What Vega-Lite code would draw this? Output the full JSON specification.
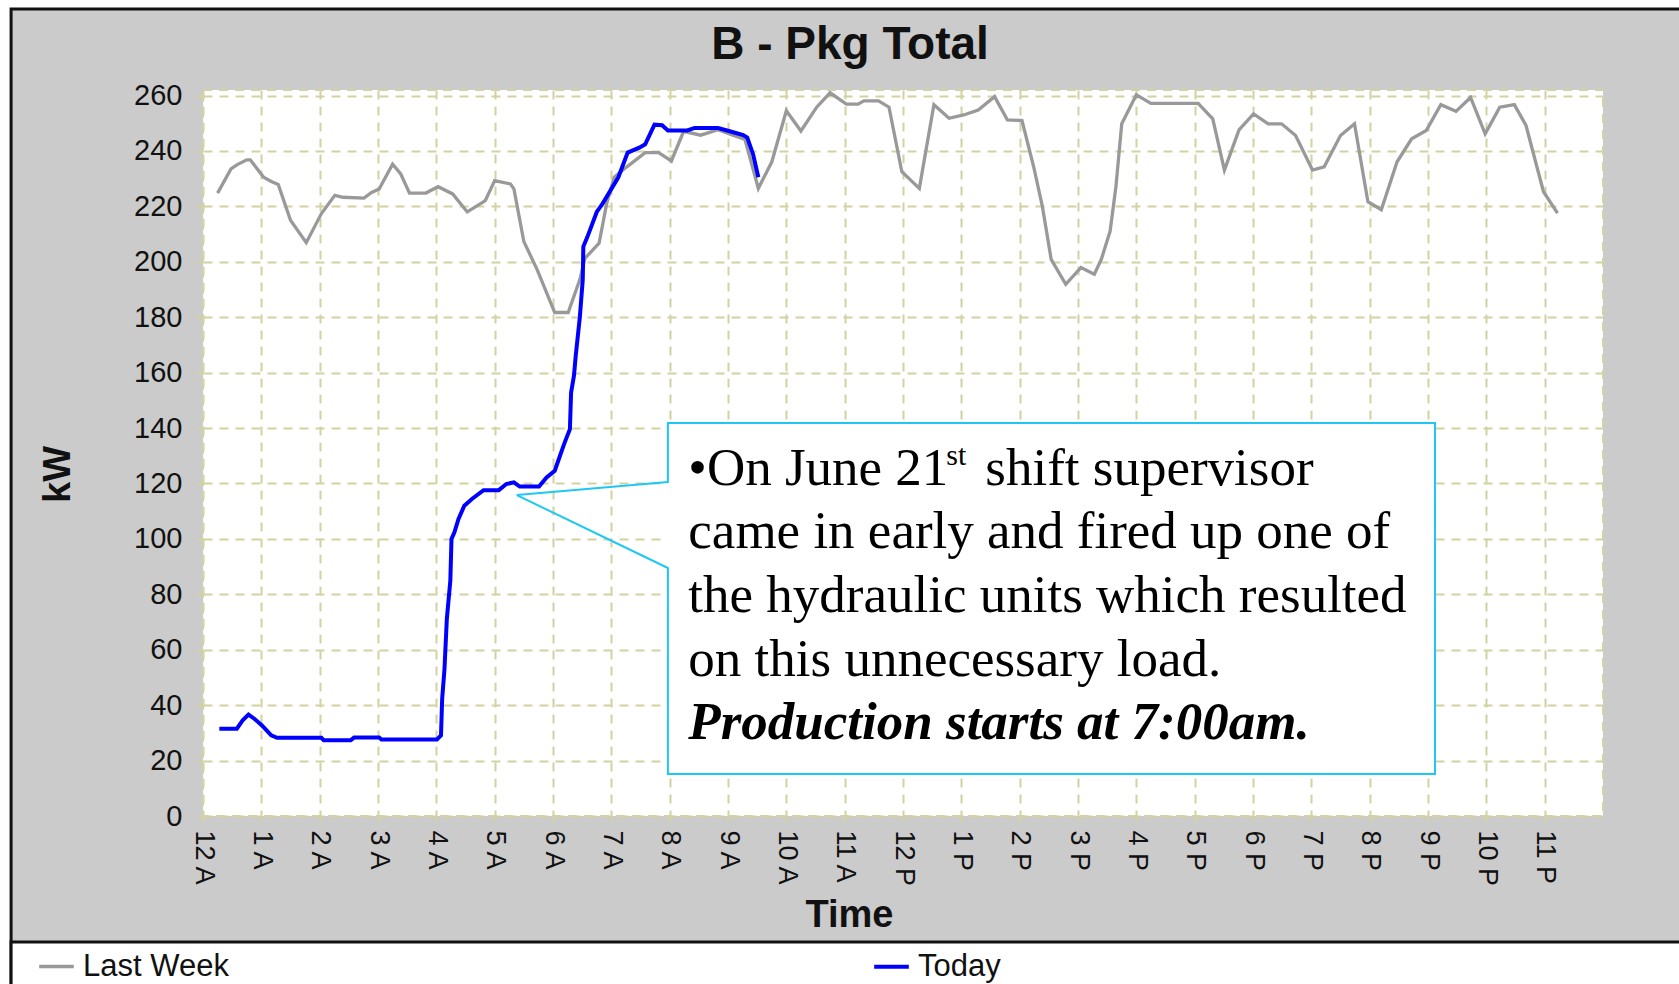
{
  "$schema": "https://vega.github.io/schema/vega-lite/v6.json",
  "width": 1400,
  "height": 726,
  "autosize": {"type": "none"},
  "padding": {"left": 203, "top": 90, "right": 76, "bottom": 168},
  "background": "#cbcbcb",
  "title": {"text": "B - Pkg Total", "font": "Liberation Sans", "fontSize": 46, "fontWeight": "bold", "color": "#111111", "anchor": "middle", "dx": -53, "offset": -120, "baseline": "alphabetic"},
  "datasets": {
    "series": [
      {"series": "Last Week", "hour": 0.25, "kW": 224.8},
      {"series": "Last Week", "hour": 0.48, "kW": 233.5},
      {"series": "Last Week", "hour": 0.58, "kW": 235},
      {"series": "Last Week", "hour": 0.75, "kW": 236.8},
      {"series": "Last Week", "hour": 0.81, "kW": 236.8},
      {"series": "Last Week", "hour": 1.04, "kW": 230.5},
      {"series": "Last Week", "hour": 1.17, "kW": 229},
      {"series": "Last Week", "hour": 1.29, "kW": 227.9},
      {"series": "Last Week", "hour": 1.5, "kW": 215},
      {"series": "Last Week", "hour": 1.77, "kW": 206.9},
      {"series": "Last Week", "hour": 2.03, "kW": 217.4},
      {"series": "Last Week", "hour": 2.26, "kW": 224},
      {"series": "Last Week", "hour": 2.4, "kW": 223.3},
      {"series": "Last Week", "hour": 2.76, "kW": 223},
      {"series": "Last Week", "hour": 2.89, "kW": 225},
      {"series": "Last Week", "hour": 3.02, "kW": 226.3},
      {"series": "Last Week", "hour": 3.25, "kW": 235.2},
      {"series": "Last Week", "hour": 3.39, "kW": 231.7},
      {"series": "Last Week", "hour": 3.54, "kW": 224.8},
      {"series": "Last Week", "hour": 3.82, "kW": 224.8},
      {"series": "Last Week", "hour": 4.03, "kW": 227.1},
      {"series": "Last Week", "hour": 4.28, "kW": 224.5},
      {"series": "Last Week", "hour": 4.53, "kW": 218},
      {"series": "Last Week", "hour": 4.71, "kW": 220.4},
      {"series": "Last Week", "hour": 4.84, "kW": 222.1},
      {"series": "Last Week", "hour": 5.0, "kW": 229.3},
      {"series": "Last Week", "hour": 5.27, "kW": 228.1},
      {"series": "Last Week", "hour": 5.33, "kW": 226.3},
      {"series": "Last Week", "hour": 5.5, "kW": 207.3},
      {"series": "Last Week", "hour": 5.73, "kW": 197.1},
      {"series": "Last Week", "hour": 6.03, "kW": 181.7},
      {"series": "Last Week", "hour": 6.26, "kW": 181.7},
      {"series": "Last Week", "hour": 6.46, "kW": 193.6},
      {"series": "Last Week", "hour": 6.55, "kW": 201.3},
      {"series": "Last Week", "hour": 6.79, "kW": 206.7},
      {"series": "Last Week", "hour": 6.92, "kW": 221},
      {"series": "Last Week", "hour": 7.05, "kW": 230.5},
      {"series": "Last Week", "hour": 7.25, "kW": 234},
      {"series": "Last Week", "hour": 7.58, "kW": 239.4},
      {"series": "Last Week", "hour": 7.81, "kW": 239.4},
      {"series": "Last Week", "hour": 8.03, "kW": 236.4},
      {"series": "Last Week", "hour": 8.24, "kW": 247.1},
      {"series": "Last Week", "hour": 8.53, "kW": 245.7},
      {"series": "Last Week", "hour": 8.83, "kW": 247.7},
      {"series": "Last Week", "hour": 9.06, "kW": 245.9},
      {"series": "Last Week", "hour": 9.29, "kW": 244.2},
      {"series": "Last Week", "hour": 9.52, "kW": 226.5},
      {"series": "Last Week", "hour": 9.75, "kW": 236},
      {"series": "Last Week", "hour": 10.0, "kW": 254.5},
      {"series": "Last Week", "hour": 10.25, "kW": 247.2},
      {"series": "Last Week", "hour": 10.52, "kW": 255.8},
      {"series": "Last Week", "hour": 10.75, "kW": 261},
      {"series": "Last Week", "hour": 11.03, "kW": 256.9},
      {"series": "Last Week", "hour": 11.23, "kW": 256.9},
      {"series": "Last Week", "hour": 11.33, "kW": 258.1},
      {"series": "Last Week", "hour": 11.58, "kW": 258.1},
      {"series": "Last Week", "hour": 11.76, "kW": 255.8},
      {"series": "Last Week", "hour": 11.98, "kW": 232.5},
      {"series": "Last Week", "hour": 12.28, "kW": 226.5},
      {"series": "Last Week", "hour": 12.53, "kW": 256.7},
      {"series": "Last Week", "hour": 12.79, "kW": 251.8},
      {"series": "Last Week", "hour": 13.04, "kW": 253},
      {"series": "Last Week", "hour": 13.29, "kW": 254.8},
      {"series": "Last Week", "hour": 13.57, "kW": 259.6},
      {"series": "Last Week", "hour": 13.79, "kW": 251.2},
      {"series": "Last Week", "hour": 14.04, "kW": 251},
      {"series": "Last Week", "hour": 14.24, "kW": 234.3},
      {"series": "Last Week", "hour": 14.39, "kW": 219.9},
      {"series": "Last Week", "hour": 14.54, "kW": 200.9},
      {"series": "Last Week", "hour": 14.79, "kW": 191.9},
      {"series": "Last Week", "hour": 15.05, "kW": 197.9},
      {"series": "Last Week", "hour": 15.28, "kW": 195.5},
      {"series": "Last Week", "hour": 15.4, "kW": 200.9},
      {"series": "Last Week", "hour": 15.55, "kW": 211},
      {"series": "Last Week", "hour": 15.65, "kW": 227.1},
      {"series": "Last Week", "hour": 15.75, "kW": 249.8},
      {"series": "Last Week", "hour": 16.0, "kW": 260.3},
      {"series": "Last Week", "hour": 16.25, "kW": 257.2},
      {"series": "Last Week", "hour": 17.06, "kW": 257.2},
      {"series": "Last Week", "hour": 17.31, "kW": 251.6},
      {"series": "Last Week", "hour": 17.51, "kW": 233.1},
      {"series": "Last Week", "hour": 17.76, "kW": 247.6},
      {"series": "Last Week", "hour": 18.01, "kW": 253.4},
      {"series": "Last Week", "hour": 18.26, "kW": 249.8},
      {"series": "Last Week", "hour": 18.49, "kW": 249.8},
      {"series": "Last Week", "hour": 18.73, "kW": 245.6},
      {"series": "Last Week", "hour": 19.02, "kW": 233.1},
      {"series": "Last Week", "hour": 19.22, "kW": 234.3},
      {"series": "Last Week", "hour": 19.5, "kW": 245.6},
      {"series": "Last Week", "hour": 19.74, "kW": 249.8},
      {"series": "Last Week", "hour": 19.97, "kW": 221.7},
      {"series": "Last Week", "hour": 20.2, "kW": 218.8},
      {"series": "Last Week", "hour": 20.47, "kW": 236.1},
      {"series": "Last Week", "hour": 20.72, "kW": 244.4},
      {"series": "Last Week", "hour": 20.97, "kW": 247.4},
      {"series": "Last Week", "hour": 21.22, "kW": 256.7},
      {"series": "Last Week", "hour": 21.48, "kW": 254.3},
      {"series": "Last Week", "hour": 21.73, "kW": 259.3},
      {"series": "Last Week", "hour": 21.98, "kW": 246.2},
      {"series": "Last Week", "hour": 22.23, "kW": 255.8},
      {"series": "Last Week", "hour": 22.48, "kW": 256.7},
      {"series": "Last Week", "hour": 22.68, "kW": 249.2},
      {"series": "Last Week", "hour": 22.98, "kW": 225.3},
      {"series": "Last Week", "hour": 23.22, "kW": 217.6},
      {"series": "Today", "hour": 0.28, "kW": 31.5},
      {"series": "Today", "hour": 0.58, "kW": 31.5},
      {"series": "Today", "hour": 0.68, "kW": 34.5},
      {"series": "Today", "hour": 0.78, "kW": 36.6},
      {"series": "Today", "hour": 0.88, "kW": 35.1},
      {"series": "Today", "hour": 1.01, "kW": 32.7},
      {"series": "Today", "hour": 1.17, "kW": 29.1},
      {"series": "Today", "hour": 1.27, "kW": 28.2},
      {"series": "Today", "hour": 2.03, "kW": 28.2},
      {"series": "Today", "hour": 2.07, "kW": 27.3},
      {"series": "Today", "hour": 2.53, "kW": 27.3},
      {"series": "Today", "hour": 2.59, "kW": 28.3},
      {"series": "Today", "hour": 3.02, "kW": 28.3},
      {"series": "Today", "hour": 3.06, "kW": 27.6},
      {"series": "Today", "hour": 4.01, "kW": 27.6},
      {"series": "Today", "hour": 4.08, "kW": 29.1},
      {"series": "Today", "hour": 4.1, "kW": 42.3},
      {"series": "Today", "hour": 4.14, "kW": 53.1},
      {"series": "Today", "hour": 4.18, "kW": 71.1},
      {"series": "Today", "hour": 4.24, "kW": 84.9},
      {"series": "Today", "hour": 4.26, "kW": 100},
      {"series": "Today", "hour": 4.31, "kW": 102.4},
      {"series": "Today", "hour": 4.38, "kW": 107.2},
      {"series": "Today", "hour": 4.48, "kW": 112},
      {"series": "Today", "hour": 4.61, "kW": 114.4},
      {"series": "Today", "hour": 4.81, "kW": 117.6},
      {"series": "Today", "hour": 5.07, "kW": 117.6},
      {"series": "Today", "hour": 5.2, "kW": 119.8},
      {"series": "Today", "hour": 5.33, "kW": 120.4},
      {"series": "Today", "hour": 5.43, "kW": 118.9},
      {"series": "Today", "hour": 5.76, "kW": 118.9},
      {"series": "Today", "hour": 5.89, "kW": 122.2},
      {"series": "Today", "hour": 6.03, "kW": 124.6},
      {"series": "Today", "hour": 6.09, "kW": 128.2},
      {"series": "Today", "hour": 6.19, "kW": 134.2},
      {"series": "Today", "hour": 6.29, "kW": 139.6},
      {"series": "Today", "hour": 6.31, "kW": 152.8},
      {"series": "Today", "hour": 6.36, "kW": 159},
      {"series": "Today", "hour": 6.39, "kW": 166.2},
      {"series": "Today", "hour": 6.46, "kW": 180},
      {"series": "Today", "hour": 6.51, "kW": 193.6},
      {"series": "Today", "hour": 6.52, "kW": 205.5},
      {"series": "Today", "hour": 6.59, "kW": 209},
      {"series": "Today", "hour": 6.75, "kW": 218},
      {"series": "Today", "hour": 6.85, "kW": 221},
      {"series": "Today", "hour": 7.12, "kW": 230.5},
      {"series": "Today", "hour": 7.28, "kW": 239.4},
      {"series": "Today", "hour": 7.48, "kW": 241.2},
      {"series": "Today", "hour": 7.58, "kW": 242.4},
      {"series": "Today", "hour": 7.74, "kW": 249.5},
      {"series": "Today", "hour": 7.87, "kW": 249.3},
      {"series": "Today", "hour": 7.97, "kW": 247.4},
      {"series": "Today", "hour": 8.3, "kW": 247.4},
      {"series": "Today", "hour": 8.43, "kW": 248.3},
      {"series": "Today", "hour": 8.83, "kW": 248.3},
      {"series": "Today", "hour": 9.03, "kW": 247.1},
      {"series": "Today", "hour": 9.26, "kW": 245.7},
      {"series": "Today", "hour": 9.33, "kW": 244.8},
      {"series": "Today", "hour": 9.43, "kW": 238.8},
      {"series": "Today", "hour": 9.52, "kW": 230.5}
    ]
  },
  "layer": [
    {
      "data": {"values": [{}]},
      "mark": {"type": "rect", "fill": "white", "strokeWidth": 0},
      "encoding": {
        "x": {"datum": -10, "type": "quantitative"},
        "x2": {"datum": -3.29},
        "y": {"datum": -80, "type": "quantitative"},
        "y2": {"datum": 300}
      }
    },
    {
      "data": {"values": [{}]},
      "mark": {"type": "rect", "fill": "white", "strokeWidth": 0},
      "encoding": {
        "x": {"datum": -10, "type": "quantitative"},
        "x2": {"datum": 30},
        "y": {"datum": 291.2, "type": "quantitative"},
        "y2": {"datum": 300}
      }
    },
    {
      "data": {"values": [{}]},
      "mark": {"type": "rect", "filled": false, "stroke": "#111111", "strokeWidth": 3},
      "encoding": {
        "x": {"datum": -3.29, "type": "quantitative"},
        "x2": {"datum": 30},
        "y": {"datum": 291.2, "type": "quantitative"},
        "y2": {"datum": -80}
      }
    },
    {
      "data": {"values": [{}]},
      "mark": {"type": "rect", "fill": "white", "stroke": "#111111", "strokeWidth": 3},
      "encoding": {
        "x": {"datum": -3.29, "type": "quantitative"},
        "x2": {"datum": 30},
        "y": {"datum": -45.5, "type": "quantitative"},
        "y2": {"datum": -80}
      }
    },
    {
      "data": {"name": "series"},
      "mark": {"type": "line", "interpolate": "linear"},
      "encoding": {
        "x": {
          "field": "hour", "type": "quantitative",
          "scale": {"domain": [0, 24], "nice": false, "zero": false},
          "axis": {
            "values": [0,1,2,3,4,5,6,7,8,9,10,11,12,13,14,15,16,17,18,19,20,21,22,23],
            "labelExpr": "datum.value == 0 ? '12 A' : datum.value < 12 ? datum.value + ' A' : datum.value == 12 ? '12 P' : (datum.value - 12) + ' P'",
            "labelAngle": 90,
            "labelPadding": 8,
            "labelOverlap": false,
            "labelFlush": false,
            "title": "Time",
            "titlePadding": 11,
            "titleX": 646
          }
        },
        "y": {
          "field": "kW", "type": "quantitative",
          "scale": {"domain": [0, 262], "nice": false},
          "axis": {
            "values": [0,20,40,60,80,100,120,140,160,180,200,220,240,260],
            "labelPadding": 15,
            "labelFontSize": 29,
            "title": "kW",
            "titlePadding": 56,
            "titleY": 384
          }
        },
        "color": {
          "field": "series", "type": "nominal",
          "scale": {"domain": ["Last Week", "Today"], "range": ["#999999", "#0000ff"]},
          "legend": {
            "orient": "none", "legendX": -166, "legendY": 857,
            "direction": "horizontal", "columns": 2, "columnPadding": 637,
            "title": null, "symbolType": "stroke", "symbolSize": 1200, "symbolStrokeWidth": 4,
            "labelFont": "Liberation Sans", "labelFontSize": 31, "labelColor": "#111111",
            "labelOffset": 7, "labelLimit": 400
          }
        },
        "strokeWidth": {
          "field": "series", "type": "nominal",
          "scale": {"domain": ["Last Week", "Today"], "range": [3.3, 4]},
          "legend": null
        }
      }
    },
    {
      "data": {"values": [{}]},
      "mark": {"type": "rect", "fill": "white", "stroke": "#1ec8f5", "strokeWidth": 2},
      "encoding": {
        "x": {"datum": 7.97, "type": "quantitative"},
        "x2": {"datum": 21.12},
        "y": {"datum": 141.8, "type": "quantitative"},
        "y2": {"datum": 15.2}
      }
    },
    {
      "data": {"values": [{}]},
      "mark": {"type": "rule", "stroke": "white", "strokeWidth": 4},
      "encoding": {
        "x": {"datum": 7.97, "type": "quantitative"},
        "y": {"datum": 89.8, "type": "quantitative"},
        "y2": {"datum": 120.2}
      }
    },
    {
      "data": {"values": [{}]},
      "mark": {"type": "rule", "stroke": "#1ec8f5", "strokeWidth": 2},
      "encoding": {
        "x": {"datum": 7.97, "type": "quantitative"},
        "y": {"datum": 120.5, "type": "quantitative"},
        "x2": {"datum": 5.38},
        "y2": {"datum": 115.8}
      }
    },
    {
      "data": {"values": [{}]},
      "mark": {"type": "rule", "stroke": "#1ec8f5", "strokeWidth": 2},
      "encoding": {
        "x": {"datum": 7.97, "type": "quantitative"},
        "y": {"datum": 89.5, "type": "quantitative"},
        "x2": {"datum": 5.38},
        "y2": {"datum": 115.8}
      }
    },
    {
      "data": {"values": [{}]},
      "mark": {"type": "text", "font": "Liberation Serif", "fontSize": 53, "align": "left", "baseline": "alphabetic", "color": "#000000"},
      "encoding": {
        "x": {"datum": 8.32, "type": "quantitative"},
        "y": {"datum": 119.6, "type": "quantitative"},
        "text": {"value": "•On June 21"}
      }
    },
    {
      "data": {"values": [{}]},
      "mark": {"type": "text", "font": "Liberation Serif", "fontSize": 30, "align": "left", "baseline": "alphabetic", "color": "#000000", "dx": 258, "dy": -20},
      "encoding": {
        "x": {"datum": 8.32, "type": "quantitative"},
        "y": {"datum": 119.6, "type": "quantitative"},
        "text": {"value": "st"}
      }
    },
    {
      "data": {"values": [{}]},
      "mark": {"type": "text", "font": "Liberation Serif", "fontSize": 53, "align": "left", "baseline": "alphabetic", "color": "#000000", "dx": 297},
      "encoding": {
        "x": {"datum": 8.32, "type": "quantitative"},
        "y": {"datum": 119.6, "type": "quantitative"},
        "text": {"value": "shift supervisor"}
      }
    },
    {
      "data": {"values": [{}]},
      "mark": {"type": "text", "font": "Liberation Serif", "fontSize": 53, "align": "left", "baseline": "alphabetic", "color": "#000000", "lineHeight": 63.8},
      "encoding": {
        "x": {"datum": 8.32, "type": "quantitative"},
        "y": {"datum": 96.6, "type": "quantitative"},
        "text": {"value": ["came in early and fired up one of", "the hydraulic units which resulted", "on this unnecessary load."]}
      }
    },
    {
      "data": {"values": [{}]},
      "mark": {"type": "text", "font": "Liberation Serif", "fontSize": 53, "fontStyle": "italic", "fontWeight": "bold", "align": "left", "baseline": "alphabetic", "color": "#000000"},
      "encoding": {
        "x": {"datum": 8.32, "type": "quantitative"},
        "y": {"datum": 27.8, "type": "quantitative"},
        "text": {"value": "Production starts at 7:00am."}
      }
    }
  ],
  "config": {
    "font": "Liberation Sans",
    "view": {"fill": "white", "stroke": "#d2d2a2", "strokeWidth": 2, "strokeDash": [9, 7]},
    "axis": {
      "domain": false,
      "grid": true,
      "gridColor": "#d2d2a2",
      "gridDash": [9, 7],
      "gridWidth": 2,
      "gridOpacity": 1,
      "tickColor": "#d2d2a2",
      "tickWidth": 2,
      "tickSize": 6,
      "labelFont": "Liberation Sans",
      "labelFontSize": 27,
      "labelColor": "#111111",
      "titleFont": "Liberation Sans",
      "titleFontSize": 38,
      "titleFontWeight": "bold",
      "titleColor": "#111111"
    }
  }
}
